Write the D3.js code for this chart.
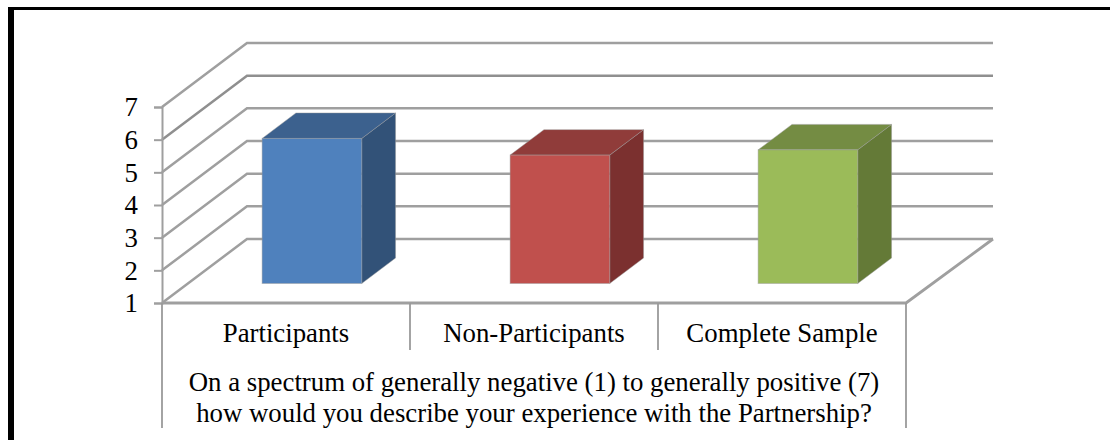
<!DOCTYPE html>
<html>
<head>
<meta charset="utf-8">
<script src="https://cdn.jsdelivr.net/npm/d3@7"></script>
<style>
  html, body { margin: 0; padding: 0; background: #fff; }
  svg { display: block; }
  text { font-family: "Liberation Serif", "Times New Roman", serif; fill: #000; }
</style>
</head>
<body>
<svg id="chart" width="1110" height="440"></svg>
<script>
const categories = ["Participants", "Non-Participants", "Complete Sample"];
const scores = [5.44, 4.93, 5.09];
const tickValues = [1, 2, 3, 4, 5, 6, 7];
const questionLines = [
  "On a spectrum of generally negative (1) to generally positive (7)",
  "how would you describe your experience with the Partnership?"
];
const frontColors = ["#4f81bd", "#c0504d", "#9bbb59"];
const topColors = ["#3c618e", "#903c3a", "#748c43"];
const sideColors = ["#325278", "#7b302f", "#647a37"];

const gridColor = "#9f9f9f";
const fontSize = 26.8;
const svg = d3.select("#chart");

// Frame around the figure: heavy left rule, lighter top rule
svg.append("line").attr("x1", 8).attr("x2", 1110).attr("y1", 8.5).attr("y2", 8.5)
  .attr("stroke", "#000").attr("stroke-width", 3);
svg.append("line").attr("x1", 11).attr("x2", 11).attr("y1", 7).attr("y2", 440)
  .attr("stroke", "#000").attr("stroke-width", 6);

// Front plane scales plus an oblique projection for depth
const y = d3.scaleLinear().domain([1, 7]).range([303, 107]);
const x = d3.scaleBand().domain(categories).range([162, 906]).padding(0);
const depthX = d3.scaleLinear().domain([0, 1]).range([0, 85]);
const depthY = d3.scaleLinear().domain([0, 1]).range([0, -64]);
const backRight = 993;
const barWidth = 99.6;
const barFrontDepth = 0.305;
const barBackDepth = 0.703;

const pointsPath = pts => "M" + pts.map(p => p.join(",")).join("L");

// Side wall and back wall gridlines; the level-6 rule prints a little heavier
const grid = svg.append("g").attr("fill", "none").attr("stroke", gridColor).attr("stroke-width", 2.5);
grid.selectAll("path").data(tickValues).join("path")
  .attr("stroke", v => v === 6 ? "#8f8f8f" : gridColor)
  .attr("d", v => pointsPath([
    [x.range()[0], y(v)],
    [x.range()[0] + depthX(1), y(v) + depthY(1)],
    [backRight, y(v) + depthY(1)]
  ]));

// Floor edges
grid.append("path").attr("d", pointsPath([
  [x.range()[0], y(1)],
  [x.range()[1], y(1)],
  [backRight, y(1) + depthY(1)]
])).attr("stroke-width", 2.8);

// Value axis with its tick marks
const yAxis = svg.append("g")
  .attr("transform", `translate(${x.range()[0]},0)`)
  .call(d3.axisLeft(y).tickValues(tickValues).tickSize(8).tickPadding(16).tickFormat(d3.format("d")));
yAxis.select(".domain").attr("stroke", gridColor).attr("stroke-width", 2);
yAxis.selectAll(".tick line").attr("stroke", gridColor).attr("stroke-width", 2);
yAxis.selectAll("text")
  .attr("font-size", fontSize)
  .attr("font-family", "Liberation Serif")
  .attr("dy", "0.33em")
  .attr("fill", "#000");

// Category dividers and the outer drop lines framing the label table
const dividers = svg.append("g").attr("stroke", "#9a9a9a").attr("stroke-width", 1.8);
const edges = [x.range()[0], ...categories.slice(1).map(c => x(c)), x.range()[1]];
dividers.selectAll("line").data(edges).join("line")
  .attr("x1", d => d).attr("x2", d => d)
  .attr("y1", y(1))
  .attr("y2", (d, i) => (i === 0 || i === edges.length - 1) ? 428 : 350);

// Bars: side face, top face, then front face
const bars = svg.append("g").selectAll("g").data(categories).join("g");
const left = c => x(c) + (x.bandwidth() - barWidth) / 2;
const baseY = y(1) + depthY(barFrontDepth);
const fx = depthX(barFrontDepth), bx = depthX(barBackDepth);
const dyFront = depthY(barFrontDepth), dyBack = depthY(barBackDepth);
const edgeStroke = sel => sel.attr("stroke", "#999").attr("stroke-opacity", 0.45).attr("stroke-width", 1);

bars.append("path")
  .attr("fill", (c, i) => sideColors[i])
  .attr("d", (c, i) => {
    const r = left(c) + barWidth;
    const t = y(scores[i]);
    return pointsPath([
      [r + fx, t + dyFront],
      [r + bx, t + dyBack],
      [r + bx, y(1) + dyBack],
      [r + fx, baseY]
    ]) + "Z";
  }).call(edgeStroke);

bars.append("path")
  .attr("fill", (c, i) => topColors[i])
  .attr("d", (c, i) => {
    const l = left(c);
    const t = y(scores[i]);
    return pointsPath([
      [l + fx, t + dyFront],
      [l + bx, t + dyBack],
      [l + bx + barWidth, t + dyBack],
      [l + fx + barWidth, t + dyFront]
    ]) + "Z";
  }).call(edgeStroke);

bars.append("rect")
  .attr("fill", (c, i) => frontColors[i])
  .attr("x", c => left(c) + fx)
  .attr("width", barWidth)
  .attr("y", (c, i) => y(scores[i]) + dyFront)
  .attr("height", (c, i) => y(1) - y(scores[i]))
  .call(edgeStroke);

// Category labels
svg.append("g").selectAll("text").data(categories).join("text")
  .attr("x", c => x(c) + x.bandwidth() / 2)
  .attr("y", 342)
  .attr("text-anchor", "middle")
  .attr("font-size", fontSize)
  .text(c => c);

// Question caption beneath the categories
svg.append("g").selectAll("text").data(questionLines).join("text")
  .attr("x", 534)
  .attr("y", (d, i) => 391 + i * 31)
  .attr("text-anchor", "middle")
  .attr("font-size", fontSize)
  .text(d => d);
</script>
</body>
</html>
